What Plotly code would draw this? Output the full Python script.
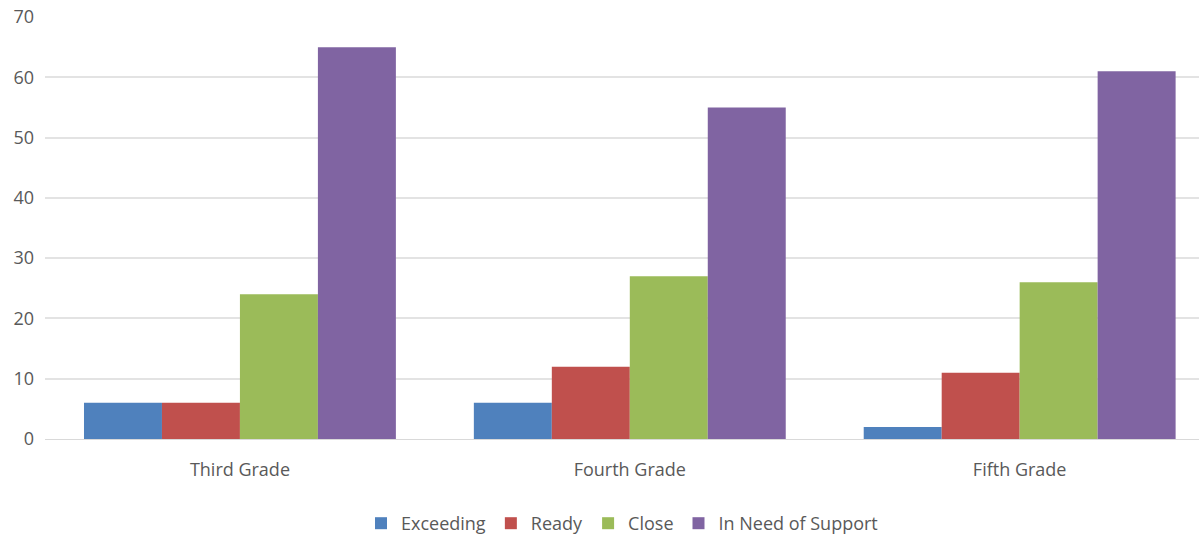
import plotly.graph_objects as go

categories = ["Third Grade", "Fourth Grade", "Fifth Grade"]
series_names = ["Exceeding", "Ready", "Close", "In Need of Support"]
exceeding = [6, 6, 2]
ready = [6, 12, 11]
close = [24, 27, 26]
need_support = [65, 55, 61]
colors = ["#4F81BD", "#C0504D", "#9BBB59", "#8064A2"]

fig = go.Figure()
for name, vals, col in zip(series_names, [exceeding, ready, close, need_support], colors):
    fig.add_trace(go.Bar(name=name, x=categories, y=vals, marker=dict(color=col, line=dict(width=0))))

font_family = "Open Sans, DejaVu Sans, sans-serif"
fig.update_layout(
    width=1199, height=542,
    barmode="group", bargap=0.2, bargroupgap=0,
    plot_bgcolor="white", paper_bgcolor="white",
    margin=dict(l=45, r=0, t=17, b=102),
    font=dict(family=font_family, size=18, color="#595959"),
    showlegend=True,
    legend=dict(orientation="h", x=0.5, xanchor="center", y=-0.199, yanchor="middle",
                font=dict(size=18, color="#595959"), itemwidth=30, traceorder="normal"),
    xaxis=dict(range=[-0.5, 2.46], showgrid=False, showline=True, linecolor="#D9D9D9", linewidth=1,
               ticks="", ticklabelstandoff=14, tickfont=dict(size=18, color="#595959")),
    yaxis=dict(range=[0, 70], dtick=10, showgrid=True, gridcolor="#E3E3E3", gridwidth=1.5,
               zeroline=False, showline=False, ticks="", ticklabelstandoff=10,
               tickfont=dict(size=18, color="#595959")),
)
fig.write_html("out.html")
